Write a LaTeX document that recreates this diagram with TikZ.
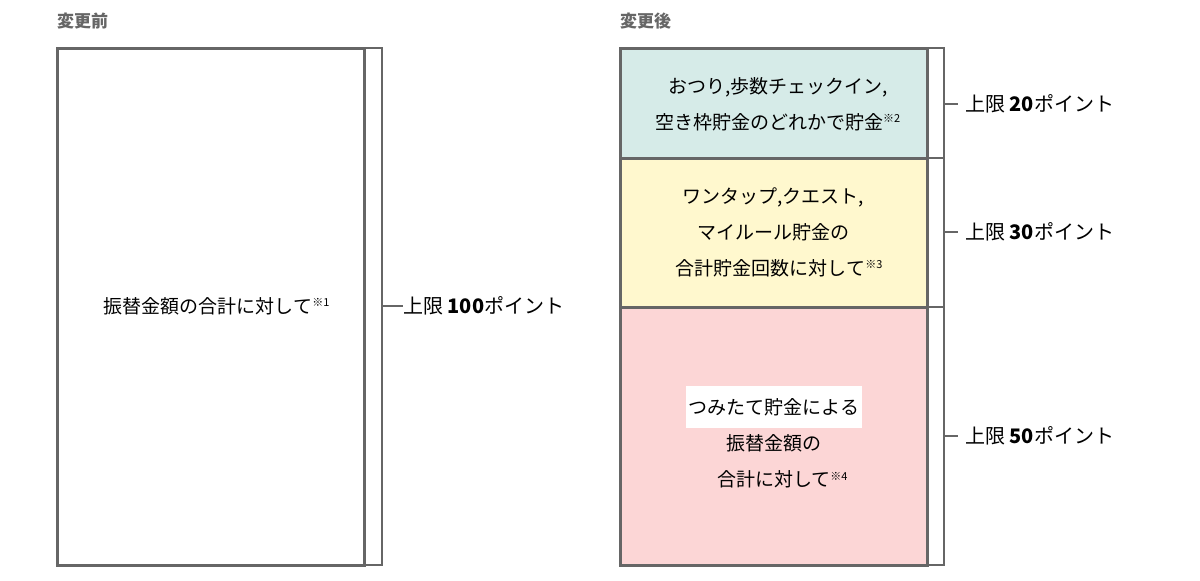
\documentclass[tikz,border=0pt]{standalone}
\usepackage{fontspec}
\setmainfont{Noto Sans CJK JP}
\definecolor{bd}{HTML}{666666}
\definecolor{tl}{HTML}{D6EBE8}
\definecolor{yl}{HTML}{FFF8CE}
\definecolor{pk}{HTML}{FCD6D6}
\definecolor{hd}{HTML}{666666}
\tikzset{box/.style={draw=bd,line width=3pt},
brk/.style={draw=bd,line width=1.5pt},
lbl/.style={anchor=west,font=\fontsize{20}{24}\selectfont,inner sep=0pt},
hdr/.style={anchor=west,font=\fontsize{17}{20}\selectfont\bfseries,text=hd,inner sep=0pt},
txt/.style={align=center,font=\fontsize{19}{36}\selectfont,inner sep=0pt}}
\newcommand{\nt}[1]{\textsuperscript{\fontsize{11}{12}\selectfont #1}}
\begin{document}
\begin{tikzpicture}[x=1pt,y=-1pt]
\useasboundingbox (0,0) rectangle (1200,581);
\node[hdr] (h1) at (57,21) {変更前};
\node[hdr] (h2) at (620,21) {変更後};
% left
\draw[brk] (364,48) rectangle (382,565);
\draw[box,fill=white] (57,48) rectangle (364,565);
\node[txt] (t0) at (217,306) {振替金額の合計に対して\nt{※1}};
\coordinate (k0) at (382,306);
\node[lbl] (l0) at (403,306) {上限 \textbf{100}ポイント};
\draw[brk] (k0) -- (l0.west);
% right
\draw[brk] (927,48) rectangle (944,158);
\draw[brk] (927,158) rectangle (944,307);
\draw[brk] (927,307) rectangle (944,565);
\draw[box,fill=tl] (620,48) rectangle (927,158);
\draw[box,fill=yl] (620,158) rectangle (927,307);
\draw[box,fill=pk] (620,307) rectangle (927,565);
\node[txt] (t1) at (778,104) {おつり,歩数チェックイン,\\ 空き枠貯金のどれかで貯金\nt{※2}};
\node[txt] (t2) at (773,232) {ワンタップ,クエスト,\\ マイルール貯金の\\ \ \ \ 合計貯金回数に対して\nt{※3}};
\node[txt] (t3) at (774,437) {\colorbox{white}{\strut つみたて貯金による}\\ 振替金額の\\ \ \ \ \ 合計に対して\nt{※4}};
\coordinate (k1) at (944,104);
\coordinate (k2) at (944,232);
\coordinate (k3) at (944,436);
\node[lbl] (l1) at (965,104) {上限 \textbf{20}ポイント};
\node[lbl] (l2) at (965,232) {上限 \textbf{30}ポイント};
\node[lbl] (l3) at (965,436) {上限 \textbf{50}ポイント};
\draw[brk] (k1) -- ++(14,0);
\draw[brk] (k2) -- ++(14,0);
\draw[brk] (k3) -- ++(14,0);
\end{tikzpicture}
\end{document}
